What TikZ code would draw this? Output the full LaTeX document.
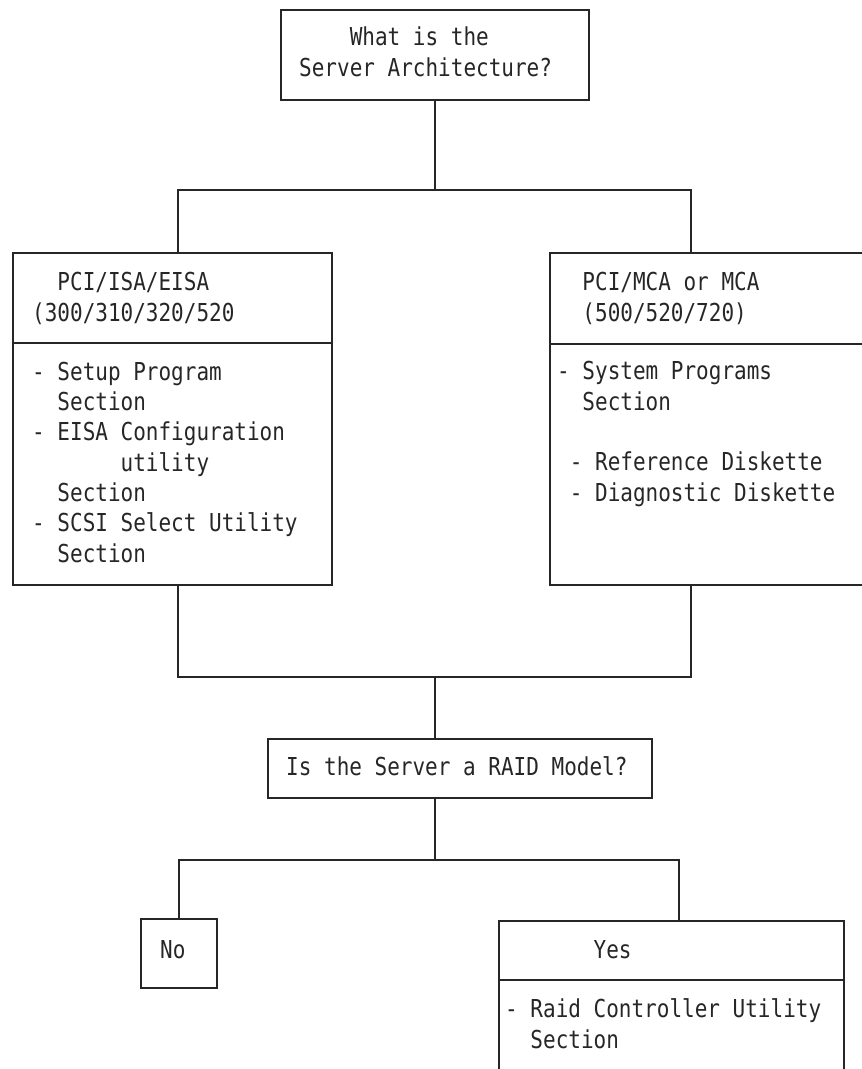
\documentclass[tikz,border=0pt]{standalone}
\usepackage{fontspec}
\newfontfamily\boxfont[FakeStretch=0.85]{DejaVu Sans Mono}
\newcommand{\cols}[1]{\hspace*{#1\fontcharwd\font`0}}
\tikzstyle{frame}=[draw, line width=2.4pt, black!85, inner sep=0pt]
\tikzstyle{wire}=[line width=2.4pt, black!85]
% base of a multi-line text is its last line
\tikzstyle{txt}=[anchor=base west, align=left, inner sep=0pt, text=black!85, font=\boxfont\fontsize{24.7}{30.3}\selectfont]

\begin{document}
\begin{tikzpicture}[x=1pt, y=-1pt]
\clip (0,0) rectangle (862,1069);

% boxes
\node[frame, minimum width=308pt, minimum height=90pt] (arch) at (435,55) {};
\node[frame, minimum width=319pt, minimum height=332pt] (lb) at (172.4,419) {};
\node[frame, minimum width=330pt, minimum height=332pt] (rb) at (715,419) {};
\node[frame, minimum width=384pt, minimum height=59pt] (raid) at (460,768.5) {};
\node[frame, minimum width=76pt, minimum height=69pt] (no) at (179,953.5) {};
\node[frame, minimum width=345pt, minimum height=179pt] (yes) at (671.5,1010.5) {};

% dividers
\draw[wire] ([yshift=-91pt]lb.north west) -- ([yshift=-91pt]lb.north east);
\draw[wire] ([yshift=-92pt]rb.north west) -- ([yshift=-92pt]rb.north east);
\draw[wire] ([yshift=-60pt]yes.north west) -- ([yshift=-60pt]yes.north east);

% junctions
\coordinate (j1) at (435,190);
\coordinate (j1l) at (178,190);
\coordinate (j1r) at (691,190);
\coordinate (j2) at (435,677);
\coordinate (j2l) at (178,677);
\coordinate (j2r) at (691,677);
\coordinate (j3) at (435,860);
\coordinate (j3l) at (179,860);
\coordinate (j3r) at (679,860);

\draw[wire] (arch.south) -- (j1);
\draw[wire] (lb.north -| j1l) -- (j1l) -- (j1r) -- (rb.north -| j1r);
\draw[wire] (lb.south -| j2l) -- (j2l) -- (j2r) -- (rb.south -| j2r);
\draw[wire] (j2) -- (raid.north -| j2);
\draw[wire] (raid.south -| j3) -- (j3);
\draw[wire] (no.north) -- (j3l) -- (j3r) -- (yes.north -| j3r);

% texts
\node[txt] (t1) at (299,76) {\cols{4}What is the\\Server Architecture?};
\node[txt] (t2) at (32,321) {\cols{2}PCI/ISA/EISA\\(300/310/320/520};
\node[txt] (t3) at (32,562) {- Setup Program\\\cols{2}Section\\- EISA Configuration\\\cols{7}utility\\\cols{2}Section\\- SCSI Select Utility\\\cols{2}Section};
\node[txt] (t4) at (557,321) {\cols{2}PCI/MCA or MCA\\\cols{2}(500/520/720)};
\node[txt] (t5) at (557,501) {- System Programs\\\cols{2}Section\\[30.3pt]\cols{1}- Reference Diskette\\\cols{1}- Diagnostic Diskette};
\node[txt] (t6) at (286,775) {Is the Server a RAID Model?};
\node[txt] (t7) at (160,958) {No};
\node[txt] (t8) at (505,958) {\cols{7}Yes};
\node[txt] (t9) at (505,1048) {- Raid Controller Utility\\\cols{2}Section};

\end{tikzpicture}
\end{document}
